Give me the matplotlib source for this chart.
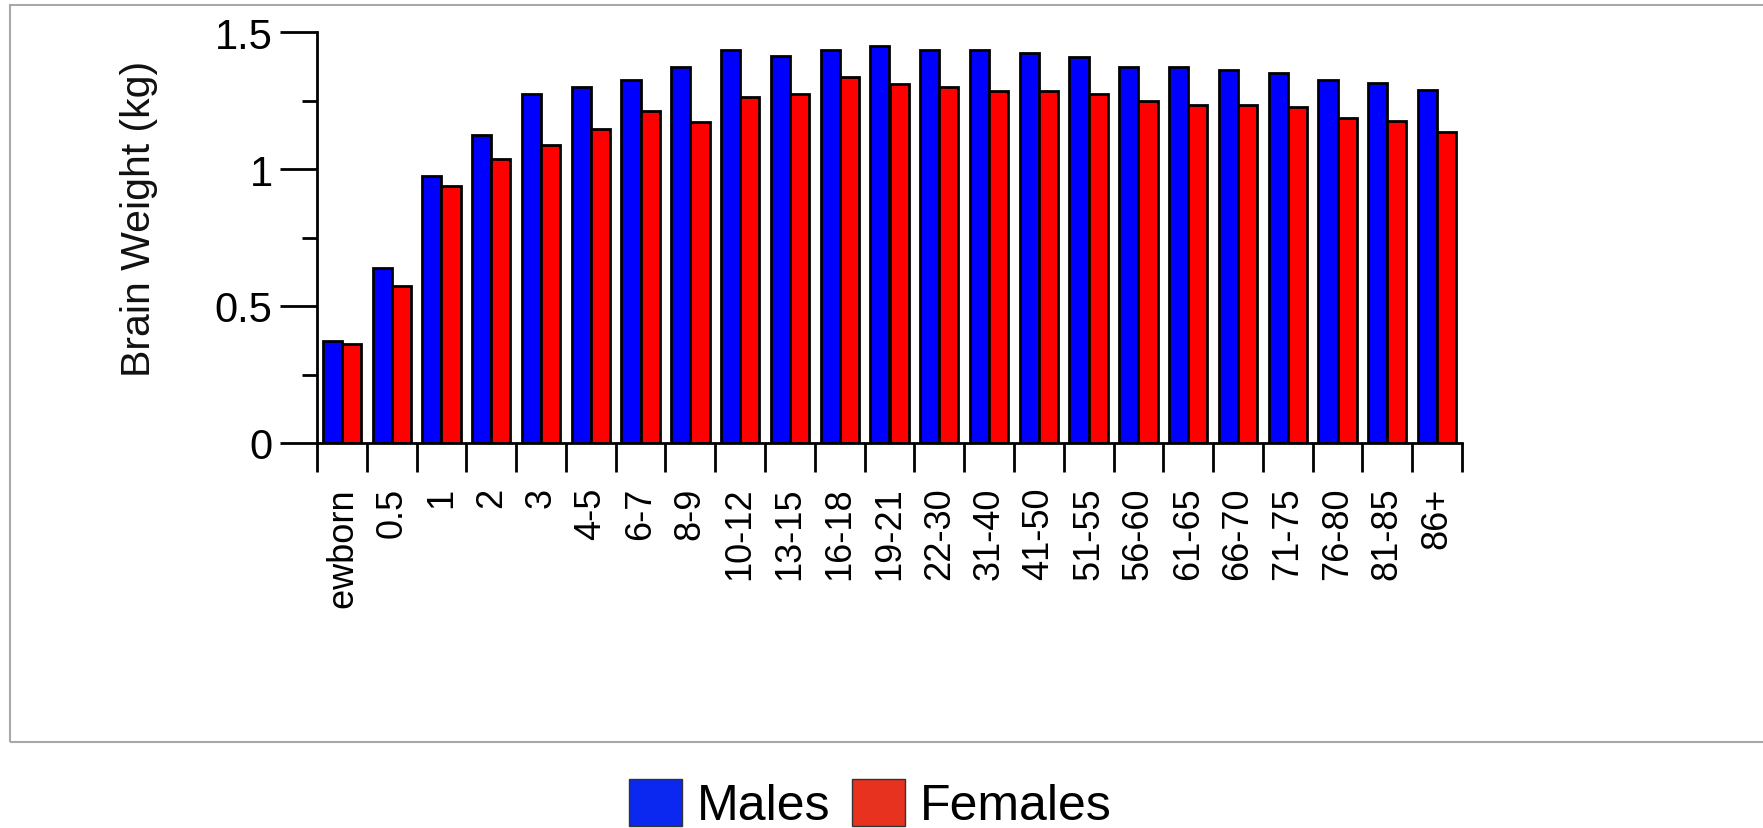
import numpy as np
import matplotlib
matplotlib.use("Agg")
import matplotlib.pyplot as plt
from matplotlib.patches import Rectangle, Patch
from matplotlib.transforms import Bbox, TransformedBbox

# ---- data ----
categories = ["Newborn", "0.5", "1", "2", "3", "4-5", "6-7", "8-9", "10-12",
              "13-15", "16-18", "19-21", "22-30", "31-40", "41-50", "51-55",
              "56-60", "61-65", "66-70", "71-75", "76-80", "81-85", "86+"]
males = [0.373, 0.638, 0.976, 1.124, 1.274, 1.300, 1.325, 1.373, 1.435,
         1.411, 1.435, 1.450, 1.435, 1.435, 1.423, 1.410, 1.373, 1.373,
         1.361, 1.350, 1.325, 1.313, 1.288]
females = [0.361, 0.574, 0.937, 1.036, 1.089, 1.146, 1.211, 1.173, 1.262,
           1.274, 1.335, 1.310, 1.298, 1.286, 1.284, 1.274, 1.247, 1.235,
           1.235, 1.225, 1.186, 1.174, 1.136]
y_major = [0, 0.5, 1, 1.5]
y_major_labels = ["0", "0.5", "1", "1.5"]
y_minor = [0.25, 0.75, 1.25]

plt.rcParams['font.family'] = ['Liberation Sans', 'DejaVu Sans']

W, H = 1763, 829
fig = plt.figure(figsize=(W / 100, H / 100), dpi=100)
fig.patch.set_facecolor('white')

# outer gray frame
frame = Rectangle((10 / W, 1 - 743 / H), (W + 20 - 10) / W, (743 - 6) / H,
                  transform=fig.transFigure, fill=False, edgecolor='#a8a8a8',
                  linewidth=1.5, clip_on=False)
fig.patches.append(frame)

left, right, top, bottom = 317, 1462, 33, 444
ax = fig.add_axes([left / W, 1 - bottom / H, (right - left) / W, (bottom - top) / H])

n = len(categories)
x = np.arange(n) + 0.5
bw = 0.385
ax.bar(x - bw / 2, males, width=bw, color='#0000ff', edgecolor='black', linewidth=2.0, zorder=2)
ax.bar(x + bw / 2, females, width=bw, color='#ff0000', edgecolor='black', linewidth=2.0, zorder=2)

ax.set_xlim(0, n)
ax.set_ylim(0, 1.5)

for s in ['top', 'right']:
    ax.spines[s].set_visible(False)
for s in ['left', 'bottom']:
    ax.spines[s].set_linewidth(2.0)
    ax.spines[s].set_color('black')

# y ticks
ax.set_yticks(y_major, labels=y_major_labels)
ax.set_yticks(y_minor, minor=True)
ax.tick_params(axis='y', which='major', length=26.5, width=2.0, pad=5.5,
               labelsize=30, colors='black')
ax.tick_params(axis='y', which='minor', length=10.5, width=2.0)

# x ticks: boundaries as major ticks, labels at centres as minor ticks
ax.set_xticks(np.arange(n + 1))
ax.set_xticklabels([])
ax.tick_params(axis='x', which='major', length=21, width=2.0, direction='out')
ax.set_xticks(x, labels=categories, minor=True)
ax.tick_params(axis='x', which='minor', length=0, pad=31.5, labelsize=26,
               labelrotation=90)

clip = TransformedBbox(Bbox.from_extents(0, 1 - 610 / H, 1, 1), fig.transFigure)
for t in ax.get_xticklabels(minor=True):
    t.set_clip_box(clip)
    t.set_clip_on(True)

fig.text(139 / W, 1 - 219 / H, "Brain Weight (kg)", rotation=90,
         ha='center', va='center', fontsize=29.5, color='#111111')

handles = [Patch(facecolor='#0a28f0', edgecolor='#333333', linewidth=1.0, label='Males'),
           Patch(facecolor='#e6321f', edgecolor='#333333', linewidth=1.0, label='Females')]
fig.legend(handles=handles, loc='center left', bbox_to_anchor=(629 / W, 1 - 805 / H),
           ncol=2, frameon=False, fontsize=36, handlelength=1.06, handleheight=1.06,
           handletextpad=0.3, columnspacing=0.42, borderpad=0, borderaxespad=0)

fig.savefig('out.png', dpi=100, facecolor='white')
